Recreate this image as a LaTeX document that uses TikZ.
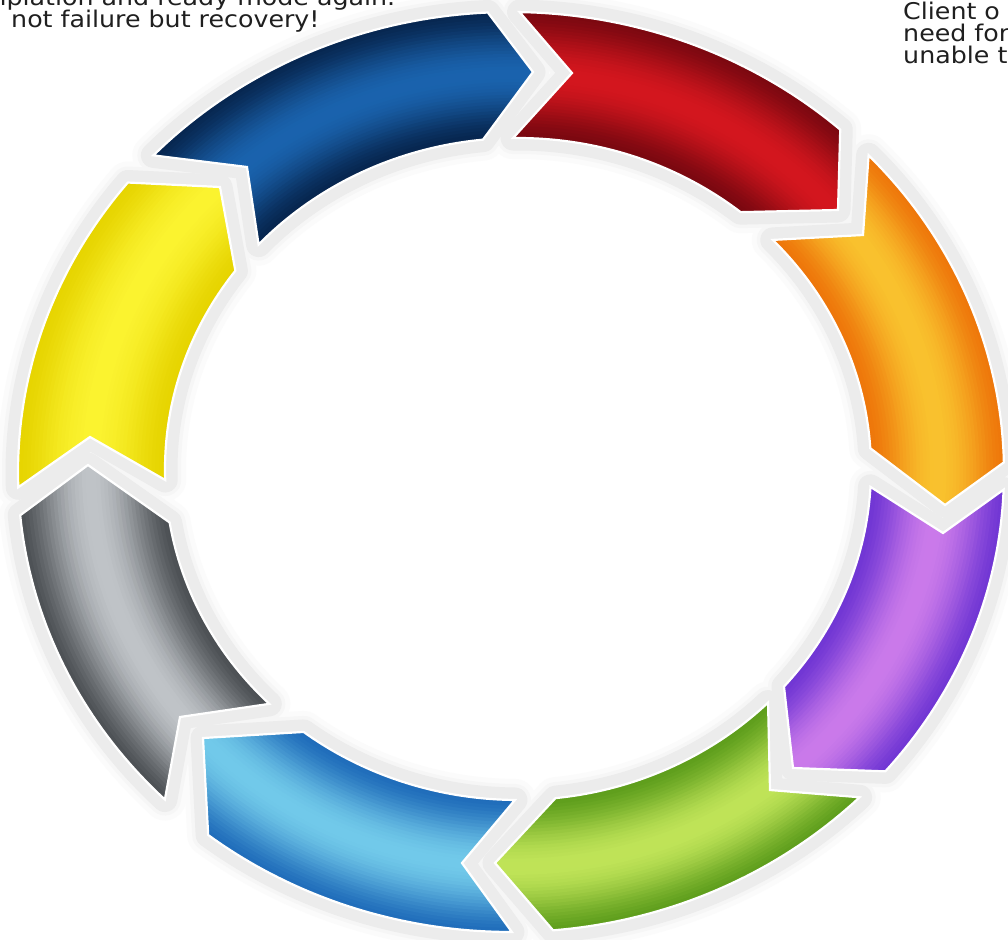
\documentclass[tikz,border=0pt]{standalone}
\usepackage{fontspec}
\setmainfont{DejaVu Sans}
\definecolor{yD}{HTML}{E6D400}\definecolor{yL}{HTML}{FBF330}
\definecolor{bD}{HTML}{07264F}\definecolor{bL}{HTML}{1A63AE}
\definecolor{rD}{HTML}{7A0810}\definecolor{rL}{HTML}{D4161E}
\definecolor{oD}{HTML}{EE760A}\definecolor{oL}{HTML}{F9C22E}
\definecolor{pD}{HTML}{7036D4}\definecolor{pL}{HTML}{CB7AEA}
\definecolor{gD}{HTML}{5E9E1C}\definecolor{gL}{HTML}{C0E458}
\definecolor{lD}{HTML}{1F6CBA}\definecolor{lL}{HTML}{72CAEA}
\definecolor{kD}{HTML}{4C5054}\definecolor{kL}{HTML}{C0C4C8}
\tikzset{
  segp/.style={insert path={
    plot[domain=\oa:\ob,samples=40,variable=\t] ({511+493*cos(\t)},{472+460*sin(\t)})
    -- (\tp)
    -- plot[domain=\ia:\ib,samples=40,variable=\t] ({518+353*cos(\t)},{469+331*sin(\t)})
    -- (\nt) -- cycle}},
  txt/.style={inner sep=0pt,font=\fontsize{23}{22}\selectfont,text=black!88,xscale=1.1}
}
\def\seglist{yD/yL/178.1/219.0/ytip/216.8/178.1/ynotch,
bD/bL/223.5/267.3/btip/264.3/222.7/bnotch,
rD/rL/271.0/311.9/rtip/309.1/269.2/rnotch,
oD/oL/316.5/358.8/otip/356.4/316.2/onotch,
pD/pL/362.2/400.6/ptip/401.1/363.1/pnotch,
gD/gL/405.0/445.1/gtip/443.9/404.9/gnotch,
lD/lL/449.9/487.9/ltip/487.4/450.5/lnotch,
kD/kL/494.6/534.6/ktip/530.7/494.8/knotch}
\begin{document}
\begin{tikzpicture}[x=1pt,y=-1pt]
\useasboundingbox (0,0) rectangle (1008,939);
\clip (0,0) rectangle (1008,939);
\fill[white] (0,0) rectangle (1008,939);
\coordinate (ynotch) at (90,437);  \coordinate (ytip) at (220,187);
\coordinate (bnotch) at (247,167); \coordinate (btip) at (533,72);
\coordinate (rnotch) at (572,73);  \coordinate (rtip) at (838,210);
\coordinate (onotch) at (863,235); \coordinate (otip) at (945,505);
\coordinate (pnotch) at (943,533); \coordinate (ptip) at (793,768);
\coordinate (gnotch) at (770,790); \coordinate (gtip) at (495,863);
\coordinate (lnotch) at (462,863); \coordinate (ltip) at (203,738);
\coordinate (knotch) at (180,717); \coordinate (ktip) at (88,465);
% soft halo
\foreach \w/\g in {42/3,32/7,25/15}{
  \foreach \cd/\cl/\oa/\ob/\tp/\ia/\ib/\nt in \seglist{
    \draw[line width=\w, gray!\g, line join=round] [segp];
  }
}
% glossy segments
\foreach \cd/\cl/\oa/\ob/\tp/\ia/\ib/\nt in \seglist{
  \fill[path picture={
    \foreach \s in {-0.1,-0.075,...,1.1}{
      \pgfmathsetmacro\ss{min(1,max(0,\s))}
      \pgfmathtruncatemacro\m{100*sin(180*\ss)*sqrt(sin(180*\ss))}
      \draw[line width=4.6, \cl!\m!\cd] ({511+7*(\s)},{472-3*(\s)}) ellipse [x radius={(493-140*(\s))*1pt}, y radius={(460-129*(\s))*1pt}];
    }
  }] [segp];
  \draw[white, line width=2.2, line join=miter] [segp];
}
% texts
\node[txt, anchor=base west] (l1) at (-93,6) {Contemplation and ready mode again.};
\node[txt, anchor=base west] (l2) at (11,27.7) {not failure but recovery!};
\node[txt, anchor=base west] (r1) at (903,20) {Client o};
\node[txt, anchor=base west] (r2) at (903,41.7) {need for};
\node[txt, anchor=base west] (r3) at (903,63.3) {unable t};
\end{tikzpicture}
\end{document}
